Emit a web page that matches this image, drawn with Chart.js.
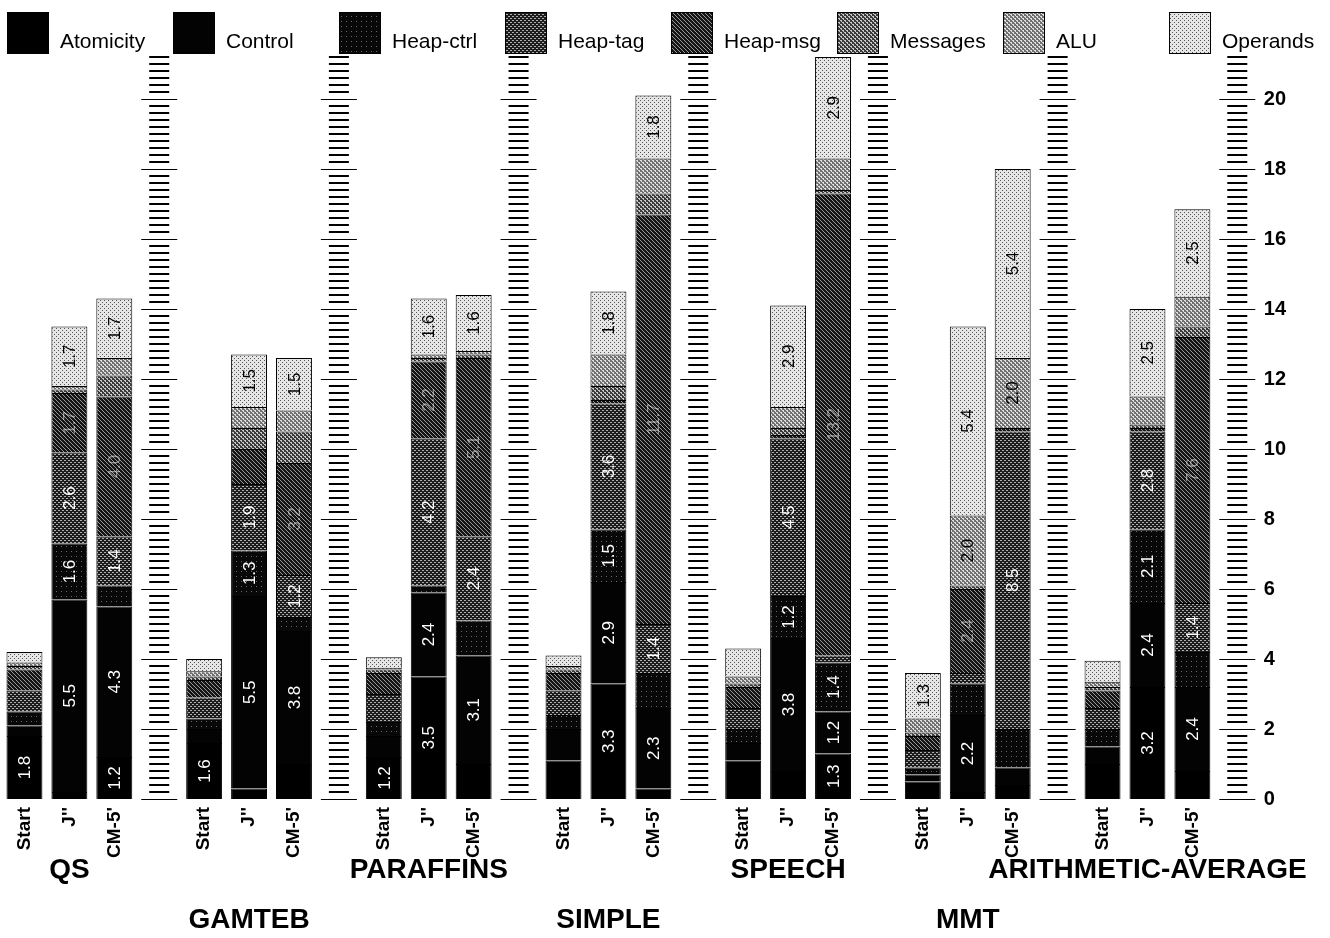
<!DOCTYPE html>
<html>
<head>
<meta charset="utf-8">
<script src="https://cdn.jsdelivr.net/npm/chart.js@4.4.1/dist/chart.umd.min.js"></script>
<style>
  html, body { margin: 0; padding: 0; background: #fff; }
  #wrap { width: 1330px; height: 938px; position: relative; }
</style>
</head>
<body>
<div id="wrap"><canvas id="chart"></canvas></div>
<script>
const groups = ['QS', 'GAMTEB', 'PARAFFINS', 'SIMPLE', 'SPEECH', 'MMT', 'ARITHMETIC-AVERAGE'];
const runs = ['Start', "J''", "CM-5'"];
const seriesNames = ['Atomicity', 'Control', 'Heap-ctrl', 'Heap-tag', 'Heap-msg', 'Messages', 'ALU', 'Operands'];

// three bars per group, in order Start, J'', CM-5'
const atomicity = [1.8, 0.2, 1.2,  1.6, 0.3, 1.0,  1.2, 3.5, 1.0,  1.1, 3.3, 0.3,  1.1, 0.8, 1.3,  0.5, 0.2, 0.4,  1.0, 3.2, 0.8];
const control   = [0.3, 5.5, 4.3,  0.4, 5.5, 3.8,  0.6, 2.4, 3.1,  0.9, 2.9, 2.3,  0.5, 3.8, 1.2,  0.2, 2.2, 0.5,  0.5, 2.4, 2.4];
const heapCtrl  = [0.4, 1.6, 0.6,  0.3, 1.3, 0.4,  0.4, 0.2, 1.0,  0.4, 1.5, 1.0,  0.4, 1.2, 1.4,  0.2, 0.9, 1.1,  0.5, 2.1, 1.0];
const heapTag   = [0.6, 2.6, 1.4,  0.6, 1.9, 1.2,  0.8, 4.2, 2.4,  0.7, 3.6, 1.4,  0.6, 4.5, 0.2,  0.5, 0.3, 8.5,  0.6, 2.8, 1.4];
const heapMsg   = [0.6, 1.7, 4.0,  0.5, 1.0, 3.2,  0.6, 2.2, 5.1,  0.5, 0.1, 11.7, 0.6, 0.1, 13.2, 0.4, 2.4, 0.1,  0.5, 0.1, 7.6];
const messages  = [0.1, 0.1, 0.6,  0.1, 0.6, 0.9,  0.1, 0.1, 0.1,  0.1, 0.4, 0.6,  0.1, 0.2, 0.1,  0.1, 0.1, 0.0,  0.1, 0.1, 0.3];
const alu       = [0.1, 0.1, 0.5,  0.15, 0.6, 0.6, 0.05, 0.1, 0.1, 0.1, 0.9, 1.0,  0.2, 0.6, 0.9,  0.4, 2.0, 2.0,  0.15, 0.8, 0.85];
const operands  = [0.3, 1.7, 1.7,  0.35, 1.5, 1.5, 0.3, 1.6, 1.6,  0.3, 1.8, 1.8,  0.8, 2.9, 2.9,  1.3, 5.4, 5.4,  0.6, 2.5, 2.5];

const yMax = 21.4;
const rulerTop = 21.2;
const rulerStep = 0.2;
const labelMin = 1.2;

const FONT = '"Liberation Sans", Arial, Helvetica, sans-serif';

// each group gets 3 bars and one slot for the ruler
const labels = [];
groups.forEach(() => { labels.push(...runs, ''); });
function withGaps(arr) {
    const out = [];
    for (let i = 0; i < arr.length; i += 3) out.push(arr[i], arr[i + 1], arr[i + 2], null);
    return out;
}

const canvas = document.getElementById('chart');
const mainCtx = canvas.getContext('2d');

// little halftone tiles to stand in for the scanned screens
function tile(base, dots, size) {
    const c = document.createElement('canvas');
    c.width = c.height = size;
    const g = c.getContext('2d');
    g.fillStyle = base;
    g.fillRect(0, 0, size, size);
    dots.forEach(([dx, dy, w, h, col]) => {
        g.fillStyle = col;
        g.fillRect(dx, dy, w, h);
    });
    return mainCtx.createPattern(c, 'repeat');
}

const fills = [
    '#000000',
    '#030303',
    tile('#080808', [[1, 1, 1, 1, '#6a6a6a']], 5),
    tile('#1c1c1c', [[0, 0, 2, 1, '#b0b0b0'], [2, 2, 2, 1, '#b0b0b0']], 4),
    tile('#141414', [[0, 0, 1, 1, '#9a9a9a'], [1, 1, 1, 1, '#9a9a9a'], [2, 2, 1, 1, '#9a9a9a'], [3, 3, 1, 1, '#9a9a9a']], 4),
    tile('#3a3a3a', [[0, 0, 2, 1, '#c8c8c8'], [2, 2, 2, 1, '#c8c8c8'], [1, 1, 1, 1, '#c8c8c8'], [3, 3, 1, 1, '#c8c8c8']], 4),
    tile('#707070', [[0, 0, 2, 1, '#e0e0e0'], [2, 2, 2, 1, '#e0e0e0'], [1, 1, 1, 1, '#e0e0e0'], [3, 3, 1, 1, '#e0e0e0']], 4),
    tile('#e6e6e6', [[0, 0, 1, 1, '#555555'], [2, 2, 1, 1, '#555555']], 4)
];
const labelColors = ['#fff', '#fff', '#fff', '#fff', 'rgba(255,255,255,0.5)', '#fff', '#000', '#000'];
const series = [atomicity, control, heapCtrl, heapTag, heapMsg, messages, alu, operands];

// ruler columns between the groups
const rulerPlugin = {
    id: 'rulers',
    afterDatasetsDraw(chart) {
        const { ctx, scales: { x, y } } = chart;
        ctx.save();
        ctx.strokeStyle = '#000';
        for (let g = 0; g < groups.length; g++) {
            const cx = x.getPixelForValue(g * 4 + 3);
            for (let k = 0; k * rulerStep <= rulerTop + 1e-9; k++) {
                const major = k % 10 === 0;
                const py = Math.round(y.getPixelForValue(k * rulerStep));
                const half = major ? 18 : 10;
                ctx.lineWidth = major ? 1.2 : 2;
                ctx.beginPath();
                ctx.moveTo(cx - half, py + (major ? 0.5 : 0));
                ctx.lineTo(cx + half, py + (major ? 0.5 : 0));
                ctx.stroke();
            }
        }
        ctx.restore();
    }
};

// numbers written sideways inside the bigger segments
const valueLabels = {
    id: 'valueLabels',
    afterDatasetsDraw(chart) {
        const ctx = chart.ctx;
        ctx.save();
        ctx.font = '17px ' + FONT;
        ctx.textAlign = 'center';
        ctx.textBaseline = 'middle';
        chart.data.datasets.forEach((ds, i) => {
            chart.getDatasetMeta(i).data.forEach((bar, j) => {
                const v = ds.data[j];
                if (v == null || v < labelMin) return;
                const { x, y, base } = bar.getProps(['x', 'y', 'base'], true);
                ctx.save();
                ctx.translate(x, (y + base) / 2);
                ctx.rotate(-Math.PI / 2);
                ctx.fillStyle = labelColors[i];
                ctx.fillText(v.toFixed(1), 0, 1);
                ctx.restore();
            });
        });
        ctx.restore();
    }
};

// legend spread evenly across the top, and the staggered benchmark names
const decorations = {
    id: 'decorations',
    afterDraw(chart) {
        const { ctx, scales: { x } } = chart;
        ctx.save();
        chart.data.datasets.forEach((ds, i) => {
            const lx = 7 + i * 166;
            ctx.fillStyle = ds.backgroundColor;
            ctx.fillRect(lx, 12, 42, 42);
            ctx.lineWidth = 1;
            ctx.strokeStyle = '#000';
            ctx.strokeRect(lx + 0.5, 12.5, 41, 41);
            ctx.fillStyle = '#000';
            ctx.font = '21px ' + FONT;
            ctx.textAlign = 'left';
            ctx.textBaseline = 'middle';
            ctx.fillText(ds.label, lx + 53, 42);
        });
        ctx.font = 'bold 28px ' + FONT;
        ctx.textAlign = 'center';
        ctx.textBaseline = 'middle';
        groups.forEach((name, g) => {
            const gx = x.getPixelForValue(g * 4 + 1);
            ctx.fillText(name, gx, g % 2 === 0 ? 870 : 920);
        });
        ctx.restore();
    }
};

new Chart(canvas, {
    type: 'bar',
    data: {
        labels: labels,
        datasets: series.map((s, i) => ({
            label: seriesNames[i],
            data: withGaps(s),
            backgroundColor: fills[i],
            borderColor: '#000',
            borderWidth: 1,
            barPercentage: 0.8,
            categoryPercentage: 1.0
        }))
    },
    options: {
        responsive: true,
        maintainAspectRatio: false,
        animation: false,
        layout: { padding: { top: 50, left: 2, right: 40, bottom: 72 } },
        plugins: {
            legend: { display: false },
            tooltip: { enabled: false }
        },
        scales: {
            x: {
                stacked: true,
                grid: { display: false, drawTicks: false },
                border: { display: false },
                ticks: {
                    autoSkip: false,
                    minRotation: 90,
                    maxRotation: 90,
                    padding: 8,
                    color: '#000',
                    font: { family: FONT, size: 19, weight: 'bold' }
                }
            },
            y: {
                stacked: true,
                position: 'right',
                min: 0,
                max: yMax,
                grid: { display: false, drawTicks: false },
                border: { display: false },
                ticks: {
                    stepSize: 2,
                    padding: 4,
                    color: '#000',
                    font: { family: FONT, size: 20, weight: 'bold' },
                    callback: v => (Math.abs(v / 2 - Math.round(v / 2)) < 1e-6 ? v : '')
                }
            }
        }
    },
    plugins: [rulerPlugin, valueLabels, decorations]
});
</script>
</body>
</html>
